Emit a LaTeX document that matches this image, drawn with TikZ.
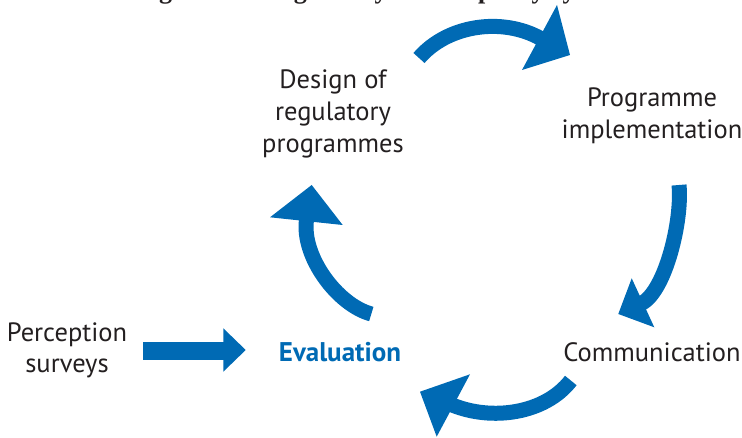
\documentclass[tikz,border=0pt]{standalone}
\usepackage{fontspec}
\setmainfont{PT Sans}
\newfontfamily\titlefont{Liberation Serif}
\definecolor{cycblue}{RGB}{0,106,180}
\definecolor{ink}{RGB}{35,31,32}
\tikzset{
  shaft/.style={draw=cycblue, line width=15pt, line cap=butt},
  headfill/.style={fill=cycblue},
  lbl/.style={font=\fontsize{26.5}{32}\selectfont, align=center, text=ink, inner sep=0pt},
  evallbl/.style={font=\fontsize{27}{32}\selectfont\bfseries, text=cycblue, inner sep=0pt},
  titlestyle/.style={font=\titlefont\bfseries\fontsize{26}{30}\selectfont, text=ink, inner sep=0pt}
}
\begin{document}
\begin{tikzpicture}[x=1pt,y=-1pt]
\useasboundingbox (0,0) rectangle (742,438);
\begin{scope}
\clip (0,0) rectangle (742,438);
\node[titlestyle, anchor=base] (title) at (371,-1.5) {Figure 1.1. Regulatory reform policy cycle};
\end{scope}

% labels (anchor = baseline of last line)
\node[lbl, anchor=base] (design) at (333,153) {Design of\\regulatory\\programmes};
\node[lbl, anchor=base] (impl) at (652,139) {Programme\\implementation};
\node[lbl, anchor=base] (comm) at (652,362) {Communication};
\node[evallbl, anchor=base] (eval) at (340,362) {Evaluation};
\node[lbl, anchor=base] (perc) at (67,373) {Perception\\surveys};

% arrow 1: design -> implementation
\coordinate (a1t) at (419,58);
\coordinate (a1b) at (541,38.6);
\coordinate (a1tip) at (570,55);
\draw[shaft] (a1t) .. controls (447,25.3) and (501.6,16.5) .. (a1b);
\fill[headfill] (a1tip) -- (557,5) -- (522,70) -- cycle;

% arrow 2: implementation -> communication
\coordinate (a2t) at (679,185);
\coordinate (a2b) at (641.5,303.4);
\coordinate (a2tip) at (618.3,314);
\draw[shaft] (a2t) .. controls (682.5,220) and (665.5,291.2) .. (a2b);
\fill[headfill] (a2tip) -- (631.7,278.3) -- (654.3,327.3) -- cycle;

% arrow 3: communication -> evaluation
\coordinate (a3t) at (570.8,380.5);
\coordinate (a3b) at (451.5,404.7);
\coordinate (a3tip) at (420,391.7);
\draw[shaft] (a3t) .. controls (545.2,413.7) and (491.9,421.5) .. (a3b);
\fill[headfill] (a3tip) -- (470,374.3) -- (436.7,436.7) -- cycle;

% arrow 4: evaluation -> design
\coordinate (a4t) at (371.3,314);
\coordinate (a4b) at (306.6,219.2);
\coordinate (a4tip) at (311.7,185);
\draw[shaft] (a4t) .. controls (337.3,304.9) and (301,255.9) .. (a4b);
\fill[headfill] (a4tip) -- (270,217.3) -- (342.7,225) -- cycle;

% arrow 5: perception surveys -> evaluation
\coordinate (a5t) at (143.3,350.8);
\coordinate (a5b) at (224,350.8);
\coordinate (a5tip) at (245.7,350);
\draw[shaft, line width=18.3pt] (a5t) -- (a5b);
\fill[headfill] (a5tip) -- (223.3,328.3) -- (223.3,371.7) -- cycle;
\end{tikzpicture}
\end{document}
